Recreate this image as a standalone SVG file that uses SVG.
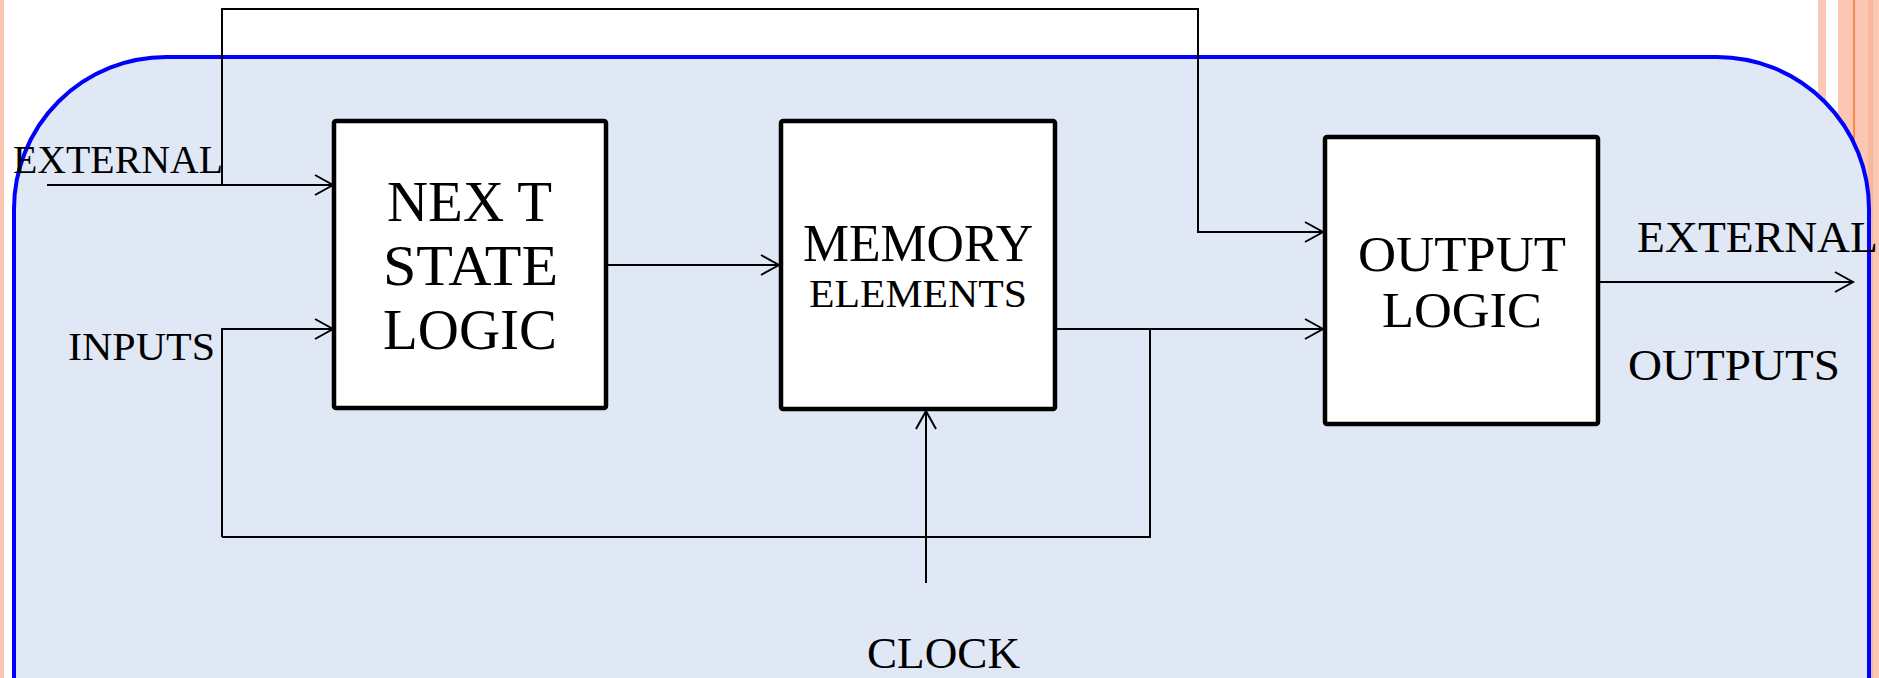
<svg xmlns="http://www.w3.org/2000/svg" width="1879" height="678" viewBox="0 0 1879 678">
<style>
.box{fill:#ffffff;stroke:#000;stroke-width:4.5;stroke-linejoin:round}
.wire{fill:none;stroke:#000;stroke-width:2}
.arr{fill:none;stroke:#000;stroke-width:2;marker-end:url(#ah)}
text{font-family:"Liberation Serif","DejaVu Serif",serif;fill:#000}
</style>
<defs>
<marker id="ah" markerUnits="userSpaceOnUse" viewBox="-22 -13 26 26" markerWidth="26" markerHeight="26" refX="0" refY="0" orient="auto">
<path d="M-18,-10 L0,0 L-18,10" fill="none" stroke="#000" stroke-width="2"/>
</marker>
</defs>
<rect x="0" y="0" width="1879" height="678" fill="#ffffff"/>
<rect x="0" y="0" width="4" height="678" fill="#fbc6b2"/>
<rect x="1818" y="0" width="8" height="678" fill="#fcc9b8"/>
<rect x="1838" y="0" width="41" height="678" fill="#fbc6b2"/>
<rect x="1853" y="0" width="2" height="678" fill="#f58a4a"/>
<rect x="1868" y="0" width="5" height="678" fill="#f9b89e"/>
<rect id="panel" x="14" y="57" width="1855" height="800" rx="152" ry="152" fill="#e0e8f5" stroke="#0000ff" stroke-width="4"/>
<g id="connectors">
<path class="arr" d="M47 185 H333"/>
<path class="arr" d="M222 185 V9 H1198 V232 H1323"/>
<path class="arr" d="M222 537 V329 H333"/>
<path class="wire" d="M222 537 H1150 V329"/>
<path class="arr" d="M606 265 H779"/>
<path class="arr" d="M1055 329 H1323"/>
<path class="arr" d="M926 583 V411"/>
<path class="arr" d="M1598 282 H1853"/>
</g>
<g id="next-state-logic">
<rect class="box" x="334" y="121" width="272" height="287" rx="2"/>
<text x="387" y="221" font-size="56" textLength="165" lengthAdjust="spacingAndGlyphs">NEX T</text>
<text x="383" y="285" font-size="56" textLength="175" lengthAdjust="spacingAndGlyphs">STATE</text>
<text x="383" y="349" font-size="56" textLength="174" lengthAdjust="spacingAndGlyphs">LOGIC</text>
</g>
<g id="memory-elements">
<rect class="box" x="781" y="121" width="274" height="288" rx="2"/>
<text x="803" y="261" font-size="53" textLength="230" lengthAdjust="spacingAndGlyphs">MEMORY</text>
<text x="809" y="307" font-size="39" textLength="218" lengthAdjust="spacingAndGlyphs">ELEMENTS</text>
</g>
<g id="output-logic">
<rect class="box" x="1325" y="137" width="273" height="287" rx="2"/>
<text x="1358" y="271" font-size="51" textLength="208" lengthAdjust="spacingAndGlyphs">OUTPUT</text>
<text x="1382" y="327" font-size="51" textLength="160" lengthAdjust="spacingAndGlyphs">LOGIC</text>
</g>
<g id="labels">
<text x="13" y="173" font-size="39" textLength="210" lengthAdjust="spacingAndGlyphs">EXTERNAL</text>
<text x="68" y="360" font-size="40" textLength="147" lengthAdjust="spacingAndGlyphs">INPUTS</text>
<text x="1637" y="252" font-size="45" textLength="241" lengthAdjust="spacingAndGlyphs">EXTERNAL</text>
<text x="1628" y="380" font-size="45" textLength="212" lengthAdjust="spacingAndGlyphs">OUTPUTS</text>
<text x="867" y="668" font-size="45" textLength="153" lengthAdjust="spacingAndGlyphs">CLOCK</text>
</g>
</svg>
